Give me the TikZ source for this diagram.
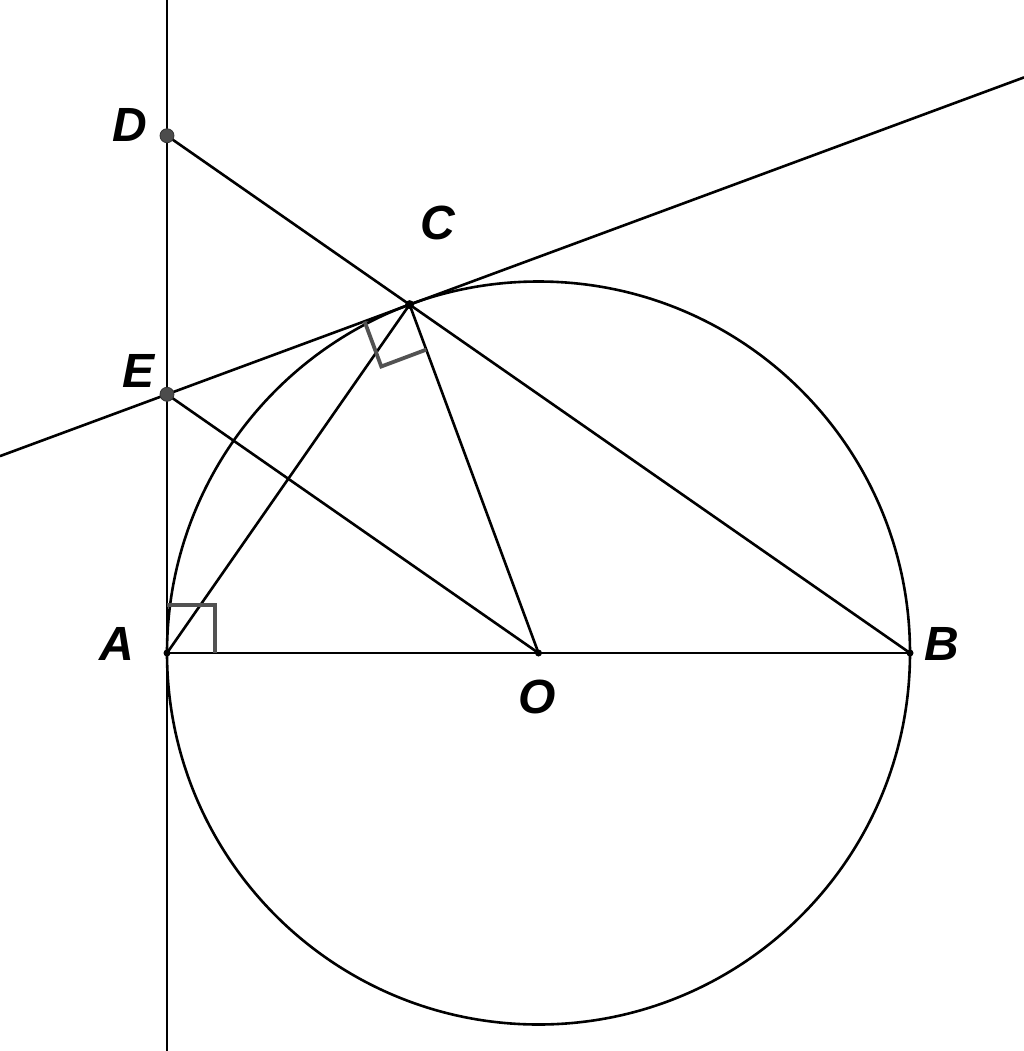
\documentclass[tikz,border=0pt]{standalone}
\usepackage{fontspec}
\setmainfont{Liberation Sans}
\begin{document}
\begin{tikzpicture}[x=0.5pt,y=-0.5pt,
  geo/.style={line width=1.3pt,black},
  ramark/.style={line width=1.9pt,draw=black!68},
  bigdot/.style={circle,fill=black!70,draw=black!80,line width=0.4pt,inner sep=0pt,minimum size=7pt},
  smalldot/.style={circle,fill=black,inner sep=0pt,minimum size=4.5pt},
  tinydot/.style={circle,fill=black,inner sep=0pt,minimum size=3.5pt},
  lab/.style={font=\fontsize{24}{24}\selectfont\bfseries\itshape,inner sep=0pt}]
\useasboundingbox (0,0) rectangle (1024,1051);
% points
\coordinate (A) at (167,653);
\coordinate (B) at (910,653);
\coordinate (O) at (538.5,653);
\coordinate (C) at (409.6,304.6);
\coordinate (D) at (167,135.7);
\coordinate (E) at (167,394.3);
\coordinate (Vtop) at (167,0);
\coordinate (Vbot) at (167,1051);
\coordinate (Tl) at (0,456.1);
\coordinate (Tr) at (1024,77.4);
% lines
\draw[geo] (Vtop) -- (Vbot);
\draw[geo] (Tl) -- (Tr);
\draw[geo] (D) -- (B);
\draw[geo] (A) -- (B);
\draw[geo] (A) -- (C);
\draw[geo] (C) -- (O);
\draw[geo] (E) -- (O);
\draw[geo] (O) circle[radius=371.5];
% right angle marks
\draw[ramark] (167,605) -- (215,605) -- (215,653);
\draw[ramark] (364.6,321.5) -- (381.3,366.5) -- (426.3,349.6);
% dots
\node[bigdot] (Dd) at (D) {};
\node[bigdot] (Ed) at (E) {};
\node[smalldot] (Cd) at (C) {};
\node[tinydot] (Od) at (O) {};
\node[tinydot] (Ad) at (A) {};
\node[tinydot] (Bd) at (B) {};
% labels
\node[lab] (Dl) at (130,125) {D};
\node[lab] (Cl) at (438,223) {C};
\node[lab] (El) at (139,371) {E};
\node[lab] (Al) at (117,644) {A};
\node[lab] (Bl) at (942,644) {B};
\node[lab] (Ol) at (537,697) {O};
\end{tikzpicture}
\end{document}
